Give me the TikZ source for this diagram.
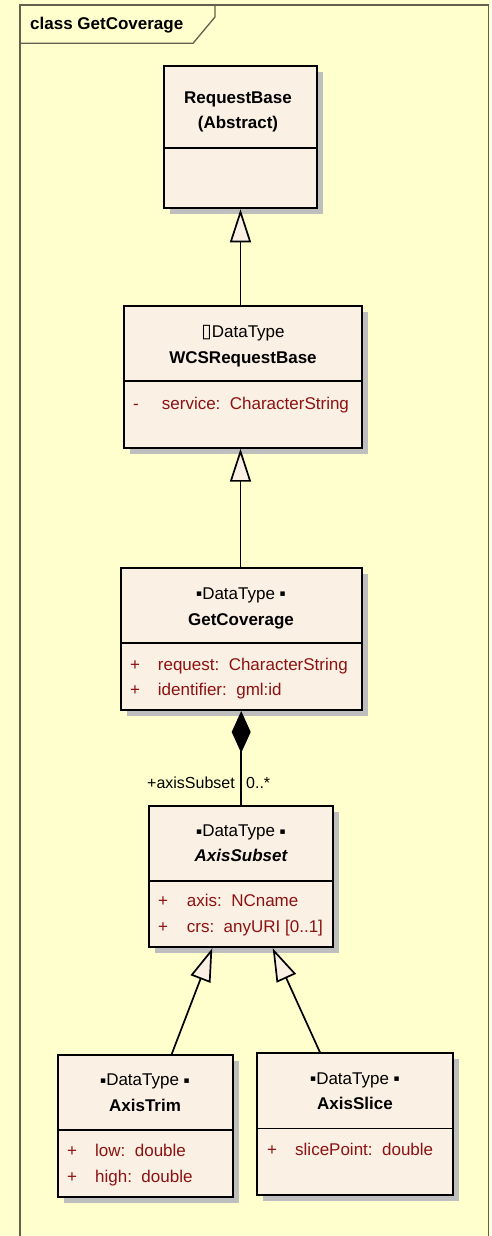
\documentclass[tikz,border=0pt]{standalone}
\usepackage{fontspec}
\setmainfont{Liberation Sans}
\newfontfamily\symfont{DejaVu Sans}
\usetikzlibrary{arrows.meta,shadows}

\definecolor{paper}{RGB}{255,255,206}
\definecolor{boxfill}{RGB}{250,240,228}
\definecolor{attrred}{RGB}{140,18,18}
\definecolor{framecol}{RGB}{96,96,76}
\definecolor{shadowcol}{RGB}{190,190,190}

\newcommand{\gsq}{\raisebox{2.5pt}{\symfont\fontsize{9}{9}\selectfont\char"25AA}}
\newcommand{\tofu}{{\symfont\fontsize{19}{19}\selectfont\char"25AF}}

\tikzset{
  classbox/.style={draw=black, line width=1.9pt, fill=boxfill, inner sep=0pt,
    drop shadow={shadow xshift=6pt, shadow yshift=-6pt, fill=shadowcol, opacity=1}},
  txt/.style={inner sep=0pt, anchor=base, font=\fontsize{17}{20}\selectfont},
  title/.style={txt, font=\fontsize{17}{20}\selectfont\bfseries},
  attr/.style={inner sep=0pt, anchor=base west, text=attrred, font=\fontsize{17}{20}\selectfont},
  divider/.style={line width=1.6pt},
  gen/.style={line width=1.7pt, -{Triangle[length=33pt, width=21pt, fill=boxfill, line width=1.7pt]}},
  comp/.style={line width=1.7pt, {Diamond[length=42pt, width=19pt, fill=black]}-},
  lbl/.style={inner sep=0pt, font=\fontsize{16}{20}\selectfont},
}

\begin{document}
\begin{tikzpicture}[x=1pt, y=-1pt]
  \useasboundingbox (0,0) rectangle (491,1236);
  \fill[paper] (0,0) rectangle (491,1236);

  % diagram frame with its name tab
  \draw[framecol, line width=1.3pt] (20,1240) -- (20,5) -- (488.5,5) -- (488.5,1240);
  \draw[framecol, line width=1.3pt] (20,43.3) -- (193,43.3) -- (215,17) -- (215,5);
  \node[title, anchor=base west] (frametitle) at (30,29.5) {class GetCoverage};

  % class boxes
  \node[classbox, minimum width=152.4pt, minimum height=142.3pt] (rb)  at (240.5,137.2) {};
  \node[classbox, minimum width=238.3pt, minimum height=141.7pt] (wcs) at (243.2,376.9) {};
  \node[classbox, minimum width=241pt,   minimum height=141.7pt] (gc)  at (241.2,639.2) {};
  \node[classbox, minimum width=184pt,   minimum height=141.6pt] (as)  at (241.3,876.5) {};
  \node[classbox, minimum width=175pt,   minimum height=141.7pt] (at)  at (145.2,1125.9) {};
  \node[classbox, minimum width=195.4pt, minimum height=141.7pt] (asl) at (355,1124.2) {};

  % compartment dividers
  \draw[divider] (rb.west  |- 0,147.7)  -- (rb.east  |- 0,147.7);
  \draw[divider] (wcs.west |- 0,381)    -- (wcs.east |- 0,381);
  \draw[divider] (gc.west  |- 0,642.7)  -- (gc.east  |- 0,642.7);
  \draw[divider] (as.west  |- 0,881)    -- (as.east  |- 0,881);
  \draw[divider] (at.west  |- 0,1130)   -- (at.east  |- 0,1130);
  \draw[divider] (asl.west |- 0,1128.3) -- (asl.east |- 0,1128.3);

  % RequestBase
  \node[title] (rbname) at (238,104) {RequestBase};
  \node[title] (rbabs)  at (238,128.3) {(Abstract)};

  % WCSRequestBase
  \node[txt]   (wcsst)   at (243,337.3) {\tofu DataType};
  \node[title] (wcsname) at (243,363.3) {WCSRequestBase};
  \node[attr]  (wcsv1)   at (133,409) {-};
  \node[attr]  (wcsa1)   at (161.7,409) {service:\ \ CharacterString};

  % GetCoverage
  \node[txt]   (gcst)   at (241,599) {\gsq DataType \gsq};
  \node[title] (gcname) at (241,625) {GetCoverage};
  \node[attr]  (gcv1)   at (130,670) {+};
  \node[attr]  (gca1)   at (157.7,670) {request:\ \ CharacterString};
  \node[attr]  (gcv2)   at (130,695.7) {+};
  \node[attr]  (gca2)   at (157.7,695.7) {identifier:\ \ gml:id};

  % AxisSubset
  \node[txt]   (asst)   at (241,836.7) {\gsq DataType \gsq};
  \node[title, font=\fontsize{17}{20}\selectfont\bfseries\itshape] (asname) at (241,861.7) {AxisSubset};
  \node[attr]  (asv1)   at (158,906.7) {+};
  \node[attr]  (asa1)   at (186.7,906.7) {axis:\ \ NCname};
  \node[attr]  (asv2)   at (158,932.3) {+};
  \node[attr]  (asa2)   at (186.7,932.3) {crs:\ \ anyURI [0..1]};

  % AxisTrim
  \node[txt]   (atst)   at (145,1085.7) {\gsq DataType \gsq};
  \node[title] (atname) at (145,1111.7) {AxisTrim};
  \node[attr]  (atv1)   at (67,1156.7) {+};
  \node[attr]  (ata1)   at (95,1156.7) {low:\ \ double};
  \node[attr]  (atv2)   at (67,1182.7) {+};
  \node[attr]  (ata2)   at (95,1182.7) {high:\ \ double};

  % AxisSlice
  \node[txt]   (aslst)   at (355,1084) {\gsq DataType \gsq};
  \node[title] (aslname) at (355,1109.3) {AxisSlice};
  \node[attr]  (aslv1)   at (267,1155) {+};
  \node[attr]  (asla1)   at (295,1155) {slicePoint:\ \ double};

  % generalizations
  \draw[gen] (rb.south |- wcs.north) -- (rb.south);
  \draw[gen] (rb.south |- gc.north) -- (rb.south |- wcs.south);
  \draw[gen] ([xshift=26.5pt]at.north) -- ([xshift=-29pt]as.south);
  \draw[gen] ([xshift=-35pt]asl.north) -- ([xshift=31.4pt]as.south);

  % composition GetCoverage <>-- AxisSubset
  \draw[comp] (gc.south) -- (gc.south |- as.north);
  \node[lbl, anchor=base east] (role) at (235,788.3) {+axisSubset};
  \node[lbl, anchor=base west] (mult) at (246,788.3) {0..*};
\end{tikzpicture}
\end{document}
